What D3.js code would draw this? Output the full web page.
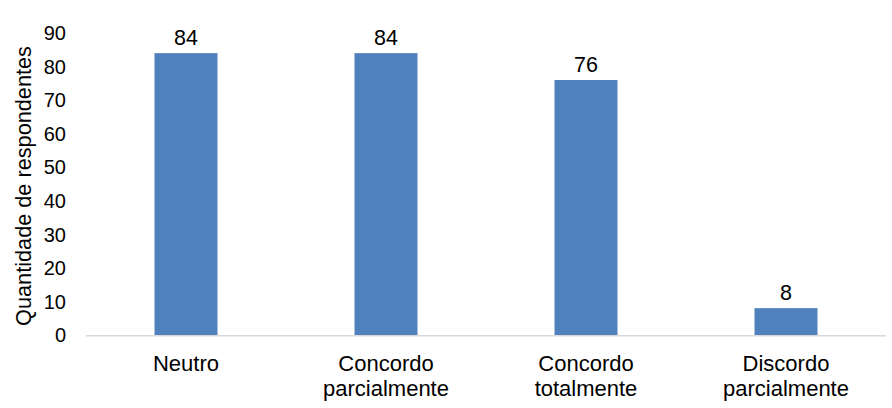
<!DOCTYPE html>
<html>
<head>
<meta charset="utf-8">
<script src="https://cdn.jsdelivr.net/npm/d3@7"></script>
<style>
  body { margin: 0; background: #fff; }
  text { font-family: "Liberation Sans", Arial, sans-serif; fill: #000; }
</style>
</head>
<body>
<svg id="chart" width="892" height="408"></svg>
<script>
// Categories (each label split into lines) and counts
var categories = ["Neutro", "Concordo parcialmente", "Concordo totalmente", "Discordo parcialmente"];
var categoryLines = [["Neutro"], ["Concordo", "parcialmente"], ["Concordo", "totalmente"], ["Discordo", "parcialmente"]];
var counts = [84, 84, 76, 8];
var yTicks = [0, 10, 20, 30, 40, 50, 60, 70, 80, 90];

var svg = d3.select("#chart");
var plotLeft = 86, plotRight = 886, plotTop = 33, plotBottom = 335;

var x = d3.scaleBand()
  .domain(categories)
  .range([plotLeft, plotRight])
  .paddingInner(0.685)
  .paddingOuter(0.3425);

var y = d3.scaleLinear()
  .domain([0, 90])
  .range([plotBottom, plotTop]);

// Y tick labels
svg.selectAll(".ytick")
  .data(yTicks)
  .enter().append("text")
  .attr("x", 66)
  .attr("y", function (d) { return y(d); })
  .attr("dy", "0.36em")
  .attr("text-anchor", "end")
  .attr("font-size", 20)
  .text(function (d) { return d; });

// Axis title
svg.append("text")
  .attr("transform", "translate(23,186) rotate(-90)")
  .attr("dy", "0.35em")
  .attr("text-anchor", "middle")
  .attr("font-size", 21.7)
  .text("Quantidade de respondentes");

// Bars
svg.selectAll(".bar")
  .data(counts)
  .enter().append("rect")
  .attr("x", function (d, i) { return x(categories[i]); })
  .attr("y", function (d) { return y(d); })
  .attr("width", x.bandwidth())
  .attr("height", function (d) { return y(0) - y(d); })
  .attr("fill", "#4F81BD");

// Baseline
svg.append("line")
  .attr("x1", plotLeft).attr("x2", plotRight)
  .attr("y1", y(0) + 0.75).attr("y2", y(0) + 0.75)
  .attr("stroke", "#D9D9D9")
  .attr("stroke-width", 1.5);

// Value labels
svg.selectAll(".val")
  .data(counts)
  .enter().append("text")
  .attr("x", function (d, i) { return x(categories[i]) + x.bandwidth() / 2; })
  .attr("y", function (d) { return y(d) - 8; })
  .attr("text-anchor", "middle")
  .attr("font-size", 21.5)
  .text(function (d) { return d; });

// Category labels
categoryLines.forEach(function (lines, i) {
  var t = svg.append("text")
    .attr("text-anchor", "middle")
    .attr("font-size", 22);
  lines.forEach(function (line, j) {
    t.append("tspan")
      .attr("x", x(categories[i]) + x.bandwidth() / 2)
      .attr("y", 371 + j * 25)
      .text(line);
  });
});
</script>
</body>
</html>
